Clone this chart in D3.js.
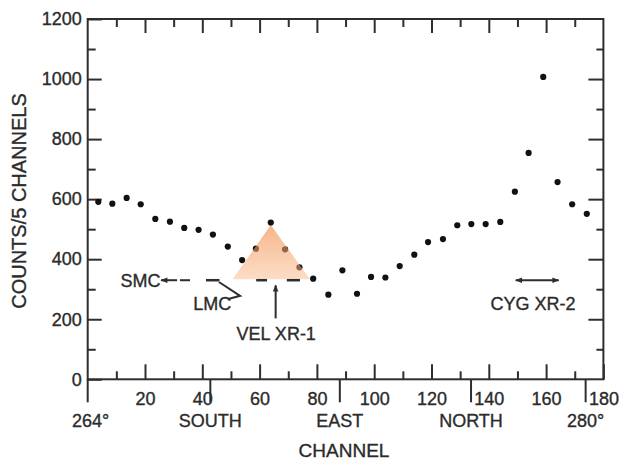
<!DOCTYPE html>
<html>
<head>
<meta charset="utf-8">
<script src="https://cdn.jsdelivr.net/npm/d3@7"></script>
<style>
  html, body { margin: 0; padding: 0; background: #fff; }
  svg { display: block; }
  text { font-family: "Liberation Sans", Arial, sans-serif; fill: #2b2b2b; stroke: #2b2b2b; stroke-width: 0.35px; }
</style>
</head>
<body>
<svg id="chart" width="623" height="463"></svg>
<script>
// Counts per 5-channel bin across the scan
const channels = [3.7, 8.6, 13.6, 18.5, 23.6, 28.7, 33.7, 38.7, 43.7, 48.9,
                  53.9, 58.7, 63.9, 68.9, 73.9, 78.7, 84.0, 88.9, 94.0, 98.9,
                  103.9, 108.9, 114.0, 118.8, 124.0, 129.0, 133.9, 138.9, 144.0, 149.1,
                  153.9, 159.0, 164.0, 169.1, 174.2];
const counts = [591, 585, 604, 583, 534, 525, 504, 498, 482, 442,
                397, 435, 522, 433, 373, 335, 282, 363, 285, 341,
                339, 377, 415, 457, 467, 513, 517, 517, 524, 625,
                754, 1007, 657, 583, 551];

// Axis ticks and labels
const yMajorTicks = [0, 200, 400, 600, 800, 1000, 1200];
const yMinorTicks = [100, 300, 500, 700, 900, 1100];
const xMajorTicks = [20, 40, 60, 80, 100, 120, 140, 160, 180];
const xMinorTicks = [10, 30, 50, 70, 90, 110, 130, 150, 170];
const directionLabels = ["264°", "SOUTH", "EAST", "NORTH", "280°"];
const directionChannels = [0, 42.8, 88.0, 133.8, 173.8];

// Source annotations (channel / count coordinates)
const vela = { apex: [63.9, 514], left: [50.6, 333], right: [77.6, 333] };
const markerLevel = 330;

const svg = d3.select("#chart");
const x = d3.scaleLinear().domain([0, 180]).range([87.7, 603.4]);
const y = d3.scaleLinear().domain([0, 1200]).range([379.3, 19]);
const axisColor = "#2e2e2e";
const fs = 18;
const fmt = d3.format("d");

// arrowhead marker
const defs = svg.append("defs");
defs.append("marker")
  .attr("id", "arrow")
  .attr("viewBox", "0 -5 10 10")
  .attr("refX", 9).attr("refY", 0)
  .attr("markerUnits", "userSpaceOnUse")
  .attr("markerWidth", 8).attr("markerHeight", 7)
  .attr("orient", "auto-start-reverse")
  .append("path").attr("d", "M0,-4L10,0L0,4Z").attr("fill", axisColor);

const grad = defs.append("linearGradient")
  .attr("id", "velGrad").attr("x1", 0).attr("y1", 0).attr("x2", 0).attr("y2", 1);
grad.append("stop").attr("offset", "0%").attr("stop-color", "rgb(240,140,70)").attr("stop-opacity", 0.64);
grad.append("stop").attr("offset", "100%").attr("stop-color", "rgb(248,188,145)").attr("stop-opacity", 0.52);

// frame
svg.append("rect")
  .attr("x", x(0)).attr("y", y(1200))
  .attr("width", x(180) - x(0)).attr("height", y(0) - y(1200))
  .attr("fill", "none").attr("stroke", axisColor).attr("stroke-width", 2);

function styleAxis(g) {
  g.select(".domain").remove();
  g.selectAll(".tick line").attr("stroke", axisColor).attr("stroke-width", 2);
  g.selectAll(".tick text").attr("font-size", fs).attr("fill", "#2b2b2b")
    .attr("font-family", "Liberation Sans, Arial, sans-serif");
}

// bottom axis: inward ticks with labels
svg.append("g").attr("transform", `translate(0,${y(0)})`)
  .call(d3.axisBottom(x).tickValues(xMajorTicks).tickSize(-15).tickSizeOuter(0).tickPadding(13).tickFormat(fmt))
  .call(styleAxis);
svg.append("g").attr("transform", `translate(0,${y(0)})`)
  .call(d3.axisBottom(x).tickValues(xMinorTicks).tickSize(-8).tickSizeOuter(0).tickFormat(""))
  .call(styleAxis);
// top axis ticks
svg.append("g").attr("transform", `translate(0,${y(1200)})`)
  .call(d3.axisTop(x).tickValues(xMajorTicks.slice(0, -1)).tickSize(-14).tickSizeOuter(0).tickFormat(""))
  .call(styleAxis);
svg.append("g").attr("transform", `translate(0,${y(1200)})`)
  .call(d3.axisTop(x).tickValues(xMinorTicks).tickSize(-8).tickSizeOuter(0).tickFormat(""))
  .call(styleAxis);
// left axis
svg.append("g").attr("transform", `translate(${x(0)},0)`)
  .call(d3.axisLeft(y).tickValues(yMajorTicks).tickSize(-14).tickSizeOuter(0).tickPadding(6).tickFormat(fmt))
  .call(styleAxis);
svg.append("g").attr("transform", `translate(${x(0)},0)`)
  .call(d3.axisLeft(y).tickValues(yMinorTicks).tickSize(-8).tickSizeOuter(0).tickFormat(""))
  .call(styleAxis);
// right axis ticks
svg.append("g").attr("transform", `translate(${x(180)},0)`)
  .call(d3.axisRight(y).tickValues(yMajorTicks.slice(1, -1)).tickSize(-15).tickSizeOuter(0).tickFormat(""))
  .call(styleAxis);
svg.append("g").attr("transform", `translate(${x(180)},0)`)
  .call(d3.axisRight(y).tickValues(yMinorTicks).tickSize(-7).tickSizeOuter(0).tickFormat(""))
  .call(styleAxis);

// direction markers below the axis
svg.append("g").selectAll("line").data(directionChannels).join("line")
  .attr("x1", d => x(d)).attr("x2", d => x(d))
  .attr("y1", y(0)).attr("y2", y(0) + 23)
  .attr("stroke", axisColor).attr("stroke-width", 2);
svg.append("g").selectAll("text").data(directionLabels).join("text")
  .attr("x", (d, i) => x(directionChannels[i]) + (i === 0 ? 3 : 0))
  .attr("y", 427)
  .attr("text-anchor", "middle").attr("font-size", fs)
  .text(d => d);

// axis titles
svg.append("text").attr("x", 344).attr("y", 457)
  .attr("text-anchor", "middle").attr("font-size", 19).text("CHANNEL");
svg.append("text").attr("transform", "translate(26,201) rotate(-90)")
  .attr("text-anchor", "middle").attr("font-size", 20).text("COUNTS/5 CHANNELS");

// data points
svg.append("g").selectAll("circle").data(channels).join("circle")
  .attr("cx", d => x(d)).attr("cy", (d, i) => y(counts[i]))
  .attr("r", 3.1).attr("fill", "#111");

// Vela region highlight
svg.append("path")
  .attr("d", d3.line()([vela.apex, vela.left, vela.right].map(p => [x(p[0]), y(p[1])])) + "Z")
  .attr("fill", "url(#velGrad)");

const ann = svg.append("g").attr("stroke", axisColor).attr("stroke-width", 2).attr("fill", "none");
const L = (c1, v1, c2, v2) => ann.append("line")
  .attr("x1", x(c1)).attr("y1", y(v1)).attr("x2", x(c2)).attr("y2", y(v2));

// SMC marker
L(31.2, markerLevel, 25.6, markerLevel).attr("marker-end", "url(#arrow)");
L(32.2, markerLevel, 35.7, markerLevel);
svg.append("text").attr("x", x(25.4)).attr("y", y(markerLevel) + 6.5)
  .attr("text-anchor", "end").attr("font-size", fs).text("SMC");

// LMC marker
L(41.3, markerLevel, 46.0, markerLevel).attr("stroke-width", 2.5);
ann.append("path")
  .attr("d", d3.line()([[45.8, 324], [53.2, 278], [49.4, 268]].map(p => [x(p[0]), y(p[1])])));
svg.append("text").attr("x", x(36.8)).attr("y", y(254) + 6.5)
  .attr("font-size", fs).text("LMC");

// VEL XR-1 marker
L(58.8, markerLevel, 62.6, markerLevel).attr("stroke-width", 2.5);
L(69.5, markerLevel, 74.1, markerLevel).attr("stroke-width", 2.5);
L(65.6, 203, 65.6, 313).attr("marker-end", "url(#arrow)");
svg.append("text").attr("x", x(65.8)).attr("y", y(151) + 6.5)
  .attr("text-anchor", "middle").attr("font-size", fs).text("VEL XR-1");

// CYG XR-2 marker
L(149.4, markerLevel, 164.4, markerLevel)
  .attr("marker-start", "url(#arrow)").attr("marker-end", "url(#arrow)");
svg.append("text").attr("x", x(155.4)).attr("y", y(254) + 6.5)
  .attr("text-anchor", "middle").attr("font-size", fs).text("CYG XR-2");
</script>
</body>
</html>
